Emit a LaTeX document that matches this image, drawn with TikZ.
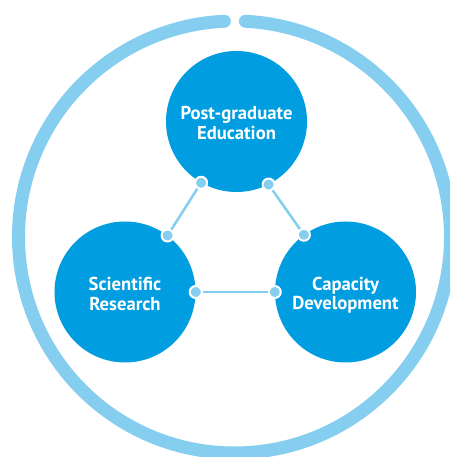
\documentclass[tikz,border=0pt]{standalone}
\usepackage{fontspec}
\setmainfont{PT Sans}
\definecolor{coreblue}{RGB}{0,158,224}
\definecolor{paleblue}{RGB}{134,206,240}
\begin{document}
\begin{tikzpicture}[x=0.75pt,y=0.75pt,
  pillar/.style={circle,fill=coreblue,minimum size=105.75pt,inner sep=0pt},
  caption/.style={text=white,align=center,inner sep=0pt,
    font=\bfseries\fontsize{14pt}{14.8pt}\selectfont},
  joint/.style={circle,fill=paleblue,draw=white,line width=1.5pt,
    minimum size=9pt,inner sep=0pt},
  link/.style={draw=paleblue,line width=1.9pt},
  ring/.style={draw=paleblue,line width=9.75pt,line cap=round}]
\useasboundingbox (0,0) rectangle (450,457);
\clip (0,0) rectangle (450,457);
\fill[white] (0,0) rectangle (450,457);

% outer ring with a small opening at the top
\coordinate (hub) at (234.5,220);
\draw[ring] ([shift={(92.7:216)}]hub) arc[start angle=92.7,end angle=447.1,radius=216];

% the three pillars
\node[pillar] (edu) at (236.5,335.5) {};
\node[pillar] (res) at (125,165) {};
\node[pillar] (cap) at (345.5,165) {};

% their titles
\node[caption] (eduT) at ([yshift=-1pt]edu.center) {Post-graduate\\Education};
\node[caption] (resT) at ([yshift=-1.5pt]res.center) {Scientific\\Research};
\node[caption] (capT) at ([yshift=-2.5pt]cap.center) {Capacity\\Development};

% joints on the rims
\node[joint] (eduL) at (edu.240.7) {};
\node[joint] (eduR) at (edu.297) {};
\node[joint] (resJ) at (res.53.6) {};
\node[joint] (resR) at (res.0) {};
\node[joint] (capJ) at (cap.126) {};
\node[joint] (capL) at (cap.180) {};

% links between the pillars
\draw[link] (eduL) -- (resJ);
\draw[link] (eduR) -- (capJ);
\draw[link] (resR) -- (capL);
\end{tikzpicture}
\end{document}
